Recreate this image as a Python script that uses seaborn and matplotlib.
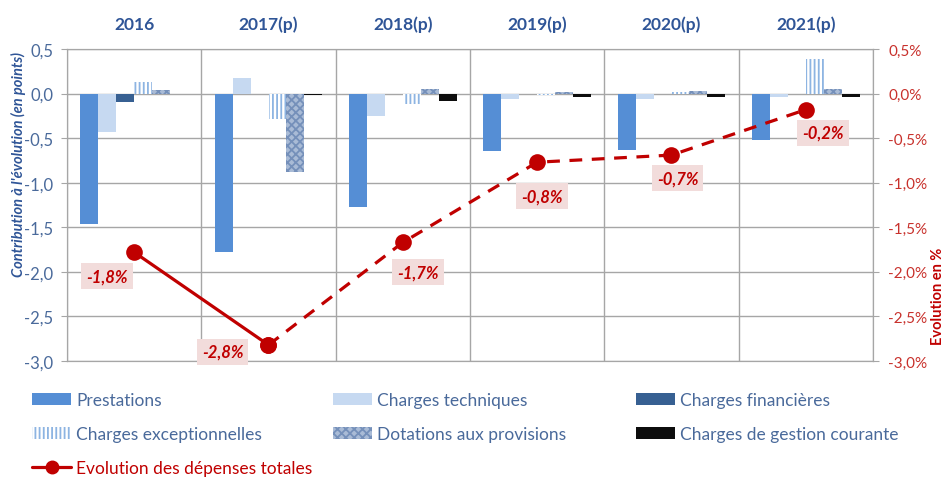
import numpy as np
import pandas as pd
import seaborn as sns
import matplotlib.pyplot as plt
from matplotlib.patches import Patch
from matplotlib.lines import Line2D
from matplotlib.ticker import FuncFormatter

# --- data ---
years = ['2016', '2017(p)', '2018(p)', '2019(p)', '2020(p)', '2021(p)']
series = ['Prestations', 'Charges techniques', 'Charges financières',
          'Charges exceptionnelles', 'Dotations aux provisions',
          'Charges de gestion courante']
prestations = [-1.46, -1.78, -1.27, -0.645, -0.63, -0.52]
charges_techniques = [-0.43, 0.17, -0.255, -0.06, -0.06, -0.04]
charges_financieres = [-0.09, -0.005, -0.01, -0.01, -0.01, -0.005]
charges_exceptionnelles = [0.13, -0.28, -0.12, -0.02, 0.02, 0.39]
dotations = [0.04, -0.88, 0.05, 0.02, 0.03, 0.05]
gestion_courante = [0.0, -0.02, -0.08, -0.04, -0.04, -0.04]
evolution_totale = [-1.78, -2.82, -1.67, -0.77, -0.69, -0.18]
line_label = 'Evolution des dépenses totales'

# label offsets (pixels) of the value boxes relative to each point
label_offsets = [(-27, -24), (-46, -7), (15, -30), (5, -34), (6, -23), (17, -23)]

# --- styling ---
bar_colors = ['#558ED5', '#C6D9F1', '#376092', '#FFFFFF', '#A9BBD6', '#0D0D0D']
hatch_edges = [None, None, None, '#8DB4E2', '#7590BA', None]
hatches = [None, None, None, '||||', 'xxxx', None]
red = '#C00000'
blue_txt = '#4A6A9B'
grid_col = '#A6A6A6'

sns.set_style('white')
plt.rcParams['font.family'] = ['Lato', 'DejaVu Sans']
plt.rcParams['hatch.linewidth'] = 1.3

values = [prestations, charges_techniques, charges_financieres,
          charges_exceptionnelles, dotations, gestion_courante]
df = pd.DataFrame({
    'year': np.repeat([years], len(series), axis=0).ravel(),
    'series': np.repeat(series, len(years)),
    'value': np.concatenate(values),
})

fig = plt.figure(figsize=(9.46, 4.81), dpi=100)
W, H = 946, 481
ax = fig.add_axes([67 / W, 1 - 362 / H, (873 - 67) / W, (362 - 50) / H])

sns.barplot(data=df, x='year', y='value', hue='series', order=years,
            hue_order=series, palette=bar_colors, saturation=1, width=0.8,
            errorbar=None, legend=False, ax=ax, linewidth=0)

for cont, hatch, ec in zip(ax.containers, hatches, hatch_edges):
    for p in cont.patches:
        if hatch:
            p.set_hatch(hatch)
            p.set_edgecolor(ec)
            p.set_linewidth(0)

ax.set_xlim(-0.5, len(years) - 0.5)
ax.set_ylim(-3.0, 0.5)
ax.set_yticks(np.arange(-3.0, 0.51, 0.5))
ax.yaxis.set_major_formatter(FuncFormatter(lambda v, _: f'{v:.1f}'.replace('.', ',')))
ax.tick_params(axis='y', colors=grid_col, labelcolor=blue_txt, labelsize=12,
               length=4, pad=6, direction='out', left=True)
ax.xaxis.tick_top()
ax.set_xticks(range(len(years)))
ax.set_xticklabels(years, fontweight='bold', color='#2F5597', fontsize=12.5)
ax.set_xticks(np.arange(-0.5, len(years), 1), minor=True)
ax.tick_params(axis='x', which='both', length=0, pad=12)
ax.grid(axis='y', which='major', color=grid_col, lw=1)
ax.grid(axis='x', which='minor', color=grid_col, lw=1)
ax.set_axisbelow(True)
ax.set_xlabel('')
ax.set_ylabel('')
for s in ax.spines.values():
    s.set_color(grid_col)

# --- line on secondary axis ---
ax2 = ax.twinx()
xpos = np.arange(len(years))
sns.lineplot(x=xpos[:2], y=evolution_totale[:2], ax=ax2, color=red, lw=2.3,
             marker='o', markersize=12, markeredgewidth=0, legend=False)
sns.lineplot(x=xpos[1:], y=evolution_totale[1:], ax=ax2, color=red, lw=2.3,
             marker='o', markersize=12, markeredgewidth=0, legend=False)
ax2.lines[-1].set_dashes((4, 3))
ax2.set_ylim(-3.0, 0.5)
ax2.set_yticks(np.arange(-3.0, 0.51, 0.5))
ax2.yaxis.set_major_formatter(FuncFormatter(lambda v, _: f'{v:.1f}%'.replace('.', ',')))
ax2.tick_params(axis='y', colors=grid_col, labelcolor='#C8312C', labelsize=11,
                length=4, pad=7, direction='out', right=True)
ax2.set_xlabel('')
ax2.set_ylabel('')
for s in ax2.spines.values():
    s.set_color(grid_col)

for x, v, (dx, dy) in zip(xpos, evolution_totale, label_offsets):
    ax2.annotate(f'{v:.1f}%'.replace('.', ','), (x, v), xytext=(dx, dy),
                 textcoords='offset pixels', ha='center', va='center',
                 fontsize=12, fontweight='bold', fontstyle='italic', color=red,
                 bbox=dict(boxstyle='square,pad=0.3', fc='#F2DCDB', ec='none'))

# --- axis titles ---
fig.text(18 / W, 1 - 165 / H, "Contribution à l'évolution (en points)",
         rotation=90, ha='center', va='center', fontsize=10.5,
         fontstyle='italic', fontweight='bold', color='#2F5597')
fig.text(938 / W, 1 - 296 / H, 'Evolution en %', rotation=90, ha='center',
         va='center', fontsize=10.5, fontweight='bold', color=red)

# --- legend, three columns like the reference ---
def bar_handle(i):
    return Patch(facecolor=bar_colors[i], edgecolor=hatch_edges[i] or bar_colors[i],
                 hatch=hatches[i], linewidth=0)

line_handle = Line2D([0], [0], color=red, lw=2.3, marker='o', markersize=9)
columns = [
    ([bar_handle(0), bar_handle(3), line_handle],
     [series[0], series[3], line_label], 32),
    ([bar_handle(1), bar_handle(4)], [series[1], series[4]], 333),
    ([bar_handle(2), bar_handle(5)], [series[2], series[5]], 636),
]
for handles, labels, xpx in columns:
    leg = fig.legend(handles, labels, loc='upper left',
                     bbox_to_anchor=(xpx / W, 1 - 393 / H), frameon=False,
                     borderpad=0, borderaxespad=0, handlelength=2.25,
                     handletextpad=0.28, labelspacing=1.05, fontsize=12.5)
    for t in leg.get_texts():
        t.set_color(red if t.get_text() == line_label else blue_txt)

fig.savefig('out.png', dpi=100)
